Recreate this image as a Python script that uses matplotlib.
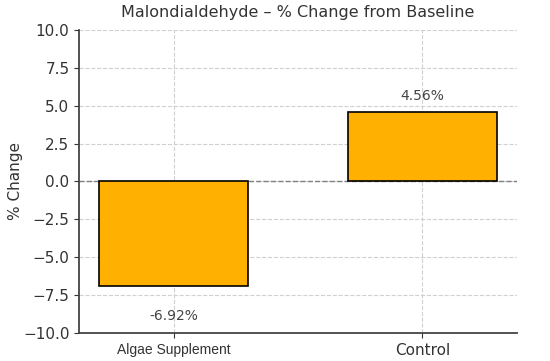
import matplotlib.pyplot as plt
import numpy as np

groups = ["Algae Supplement", "Control"]
pct_change = [-6.92, 4.56]
bar_color = "#FFB000"

fig = plt.figure(figsize=(5.5, 3.61), dpi=100)
ax = fig.add_axes([0.144, 0.078, 0.796, 0.839])

x = np.arange(len(groups))
ax.bar(x, pct_change, width=0.6, color=bar_color, edgecolor="black", linewidth=1.2, zorder=3)
ax.axhline(0, color="gray", linestyle="--", linewidth=1, zorder=2)

for xi, v in zip(x, pct_change):
    if v >= 0:
        ax.text(xi, v + 0.6, f"{v:.2f}%", ha="center", va="bottom", fontsize=10, color="#444444")
    else:
        ax.text(xi, v - 1.5, f"{v:.2f}%", ha="center", va="top", fontsize=10, color="#444444")

ax.set_xlim(-0.38, 1.38)
ax.set_ylim(-10, 10)
ax.set_yticks(np.arange(-10, 10.1, 2.5))
ax.set_xticks(x)
ax.set_xticklabels(groups)
labels = ax.get_xticklabels()
labels[0].set_fontsize(10)
labels[0].set_family("Liberation Sans")
labels[1].set_fontsize(11)
ax.tick_params(axis="y", labelsize=11, colors="#333333")
ax.tick_params(axis="x", colors="#333333")

ax.grid(True, linestyle="--", color="#d0d0d0", linewidth=0.8, zorder=0)
ax.spines["top"].set_visible(False)
ax.spines["right"].set_visible(False)
ax.spines["left"].set_color("#444444")
ax.spines["bottom"].set_color("#444444")
ax.spines["left"].set_linewidth(1.3)
ax.spines["bottom"].set_linewidth(1.3)

ax.set_ylabel("% Change", fontsize=11, color="#333333")
ax.yaxis.set_label_coords(-0.128, 0.5)
ax.set_title("Malondialdehyde \u2013 % Change from Baseline", fontsize=11.5, color="#333333", pad=9)

fig.savefig("out.png", dpi=100)
